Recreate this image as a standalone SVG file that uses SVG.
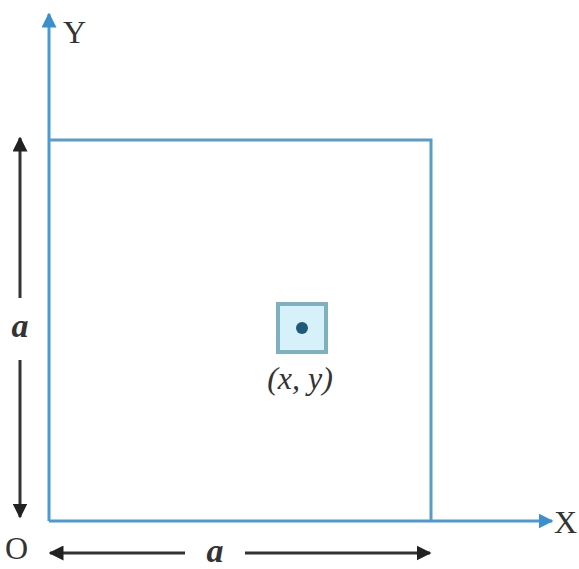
<svg xmlns="http://www.w3.org/2000/svg" width="579" height="569" viewBox="0 0 579 569">
<defs>
<marker id="ab" viewBox="0 0 10 10" refX="9" refY="5" markerWidth="5" markerHeight="5" orient="auto-start-reverse"><path d="M0,0 L10,5 L0,10 Z" fill="#3a8fd0"/></marker>
<marker id="ak" viewBox="0 0 10 10" refX="9" refY="5" markerWidth="5" markerHeight="5" orient="auto-start-reverse"><path d="M0,0 L10,5 L0,10 Z" fill="#222"/></marker>
<style>
.ax{stroke:#4a9ad6;stroke-width:3;fill:none}
.sq{stroke:#5a9cc4;stroke-width:3;fill:none}
.dim{stroke:#333;stroke-width:3;fill:none}
.t{font-family:"Liberation Serif",serif;font-size:32px;fill:#333}
.ti{font-family:"Liberation Serif",serif;font-size:32px;font-style:italic;fill:#333}
.tb{font-family:"Liberation Serif",serif;font-size:34px;font-style:italic;font-weight:bold;fill:#333}
</style>
</defs>
<g id="connectors">
<line class="ax" x1="49" y1="521" x2="49" y2="14" marker-end="url(#ab)"/>
<line class="ax" x1="49" y1="521" x2="552" y2="521" marker-end="url(#ab)"/>
<line class="dim" x1="20" y1="298" x2="20" y2="138" marker-end="url(#ak)"/>
<line class="dim" x1="20" y1="360" x2="20" y2="517" marker-end="url(#ak)"/>
<line class="dim" x1="185" y1="553" x2="50" y2="553" marker-end="url(#ak)"/>
<line class="dim" x1="245" y1="553" x2="430" y2="553" marker-end="url(#ak)"/>
</g>
<g id="square"><polyline class="sq" points="49,140 431,140 431,521"/></g>
<g id="element">
<rect x="278" y="304" width="48" height="48" fill="#d6f1fa" stroke="#7fb0c0" stroke-width="4"/>
<circle cx="302" cy="328" r="6" fill="#1e5a7a"/>
<text class="ti" x="300" y="389" text-anchor="middle">(x, y)</text>
</g>
<g id="labels">
<text class="t" x="63" y="43">Y</text>
<text class="t" x="554" y="533">X</text>
<text class="t" x="5" y="559">O</text>
<text class="tb" x="20" y="337" text-anchor="middle">a</text>
<text class="tb" x="215" y="562" text-anchor="middle">a</text>
</g>
</svg>
